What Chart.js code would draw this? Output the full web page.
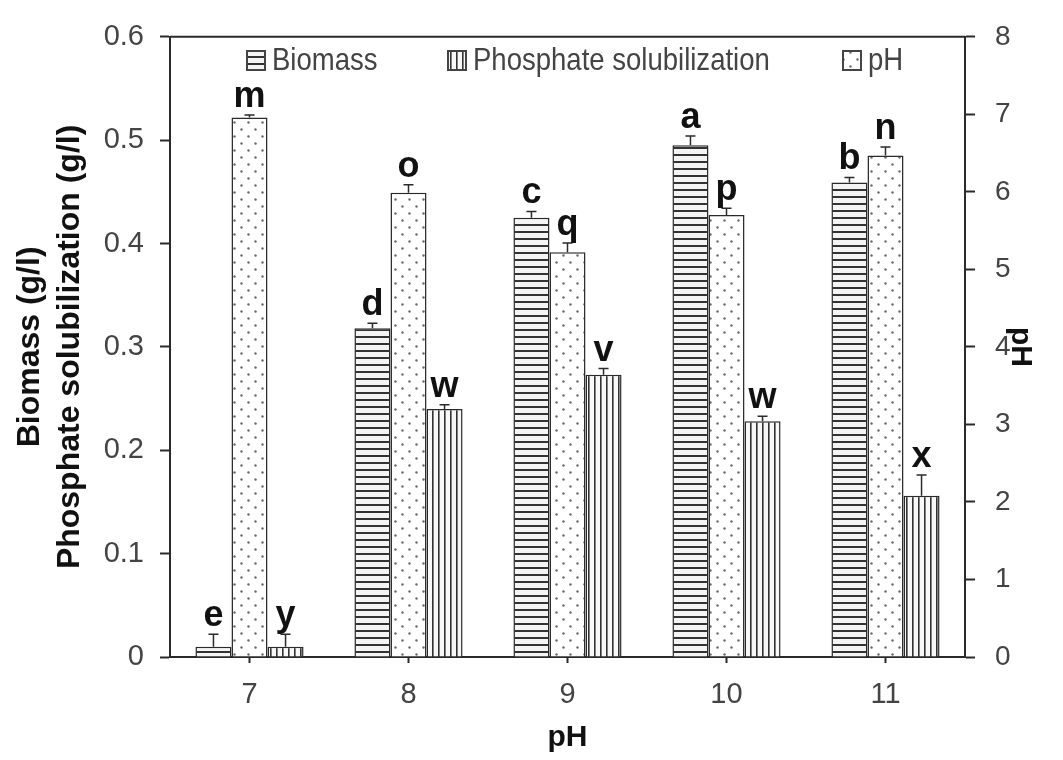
<!DOCTYPE html>
<html>
<head>
<meta charset="utf-8">
<title>Biomass, phosphate solubilization and pH</title>
<script src="https://cdn.jsdelivr.net/npm/chart.js@4.4.1/dist/chart.umd.min.js"></script>
<style>
  html, body { margin: 0; padding: 0; background: #fff; }
  #wrap { width: 1063px; height: 760px; }
</style>
</head>
<body>
<div id="wrap"><canvas id="myChart" width="1063" height="760"></canvas></div>
<script>
// initial pH of the medium (x axis)
const categories = ['7', '8', '9', '10', '11'];

// biomass and phosphate solubilization in g/l (left axis), final pH (right axis)
const biomass = [0.010, 0.318, 0.425, 0.495, 0.459];
const phValues = [6.96, 5.99, 5.22, 5.70, 6.47];
const phosphate = [0.010, 0.240, 0.273, 0.228, 0.156];

// standard deviations (upper whiskers only)
const biomassErr = [0.012, 0.005, 0.006, 0.009, 0.005];
const phErr = [0.03, 0.10, 0.12, 0.09, 0.11];
const phosphateErr = [0.012, 0.004, 0.006, 0.005, 0.020];

// significance letters
const biomassLetters = ['e', 'd', 'c', 'a', 'b'];
const phLetters = ['m', 'o', 'q', 'p', 'n'];
const phosphateLetters = ['y', 'w', 'v', 'w', 'x'];

// tick labels
const leftTicks = [0, 0.1, 0.2, 0.3, 0.4, 0.5, 0.6];
const rightTicks = [0, 1, 2, 3, 4, 5, 6, 7, 8];

const ARIAL = "'Liberation Sans', Arial, sans-serif";
const INK = '#2a2a2a';

// fill patterns
function makePattern(kind) {
    const c = document.createElement('canvas');
    const g = c.getContext('2d');
    if (kind === 'hstripe') {
        c.width = 8; c.height = 7;
        g.fillStyle = '#f4f4f4';
        g.fillRect(0, 0, 8, 7);
        g.fillStyle = '#333';
        g.fillRect(0, 0, 8, 2);
    } else if (kind === 'vstripe') {
        c.width = 6; c.height = 8;
        g.fillStyle = '#f8f8f8';
        g.fillRect(0, 0, 6, 8);
        g.fillStyle = '#333';
        g.fillRect(0, 0, 1.6, 8);
    } else {
        c.width = 14; c.height = 14;
        g.fillStyle = '#ffffff';
        g.fillRect(0, 0, 14, 14);
        g.fillStyle = '#6a6a6a';
        g.beginPath(); g.arc(3.5, 3.5, 1.2, 0, Math.PI * 2); g.fill();
        g.beginPath(); g.arc(10.5, 10.5, 1.2, 0, Math.PI * 2); g.fill();
    }
    return document.createElement('canvas').getContext('2d').createPattern(c, 'repeat');
}

const hPattern = makePattern('hstripe');
const vPattern = makePattern('vstripe');
const dotPattern = makePattern('dots');

const errors = [biomassErr, phErr, phosphateErr];
const letters = [biomassLetters, phLetters, phosphateLetters];

// whiskers and letters above each bar
const errorBarPlugin = {
    id: 'errorBars',
    afterDatasetsDraw(chart) {
        const ctx = chart.ctx;
        ctx.save();
        chart.data.datasets.forEach(function(ds, i) {
            const meta = chart.getDatasetMeta(i);
            const scale = chart.scales[ds.yAxisID];
            meta.data.forEach(function(bar, j) {
                const yTop = scale.getPixelForValue(ds.data[j] + errors[i][j]);
                ctx.strokeStyle = INK;
                ctx.lineWidth = 1.5;
                ctx.beginPath();
                ctx.moveTo(bar.x, bar.y);
                ctx.lineTo(bar.x, yTop);
                ctx.moveTo(bar.x - 5, yTop);
                ctx.lineTo(bar.x + 5, yTop);
                ctx.stroke();
                ctx.fillStyle = '#111';
                ctx.font = 'bold 36px ' + ARIAL;
                ctx.textAlign = 'center';
                ctx.textBaseline = 'alphabetic';
                ctx.fillText(letters[i][j], bar.x, yTop - 8);
            });
        });
        ctx.restore();
    }
};

// top frame line and the legend row inside the plot
const frameLegendPlugin = {
    id: 'frameLegend',
    afterDraw(chart) {
        const ctx = chart.ctx;
        const area = chart.chartArea;
        ctx.save();
        ctx.strokeStyle = INK;
        ctx.lineWidth = 2;
        ctx.beginPath();
        ctx.moveTo(area.left, area.top);
        ctx.lineTo(area.right, area.top);
        ctx.stroke();

        const items = [
            { x: 247, text: 'Biomass', fill: hPattern },
            { x: 448, text: 'Phosphate solubilization', fill: vPattern },
            { x: 843, text: 'pH', fill: dotPattern }
        ];
        items.forEach(function(it) {
            ctx.fillStyle = it.fill;
            ctx.fillRect(it.x, 51, 18, 19);
            ctx.strokeStyle = '#444';
            ctx.lineWidth = 2;
            ctx.strokeRect(it.x, 51, 18, 19);
            // condensed legend text
            ctx.save();
            ctx.translate(it.x + 25, 61);
            ctx.scale(0.86, 1);
            ctx.fillStyle = '#444';
            ctx.font = '32px ' + ARIAL;
            ctx.textAlign = 'left';
            ctx.textBaseline = 'middle';
            ctx.fillText(it.text, 0, 0);
            ctx.restore();
        });
        ctx.restore();
    }
};

const ctxBar = document.getElementById('myChart').getContext('2d');
const myChart = new Chart(ctxBar, {
    type: 'bar',
    data: {
        labels: categories,
        datasets: [{
            label: 'Biomass',
            data: biomass,
            yAxisID: 'y',
            backgroundColor: hPattern,
            borderColor: INK,
            borderWidth: 1.5
        }, {
            label: 'pH',
            data: phValues,
            yAxisID: 'y1',
            backgroundColor: dotPattern,
            borderColor: INK,
            borderWidth: 1.5
        }, {
            label: 'Phosphate solubilization',
            data: phosphate,
            yAxisID: 'y',
            backgroundColor: vPattern,
            borderColor: INK,
            borderWidth: 1.5
        }]
    },
    options: {
        responsive: false,
        animation: false,
        layout: { padding: { top: 32, left: 0, right: 0, bottom: 0 } },
        categoryPercentage: 0.68,
        barPercentage: 1,
        plugins: {
            legend: { display: false },
            tooltip: { enabled: false }
        },
        scales: {
            x: {
                grid: { drawOnChartArea: false, offset: false, tickLength: 6, tickColor: INK, tickWidth: 2 },
                border: { color: INK, width: 2 },
                ticks: { color: '#444', font: { family: ARIAL, size: 29 }, padding: 15 },
                title: { display: true, text: 'pH', color: '#111', font: { family: ARIAL, size: 30, weight: 'bold', lineHeight: 1.2 }, padding: { top: 0, bottom: 4 } },
                afterFit: function(scale) { scale.height = 103; }
            },
            y: {
                position: 'left',
                min: 0,
                max: 0.6,
                afterBuildTicks: function(scale) { scale.ticks = leftTicks.map(v => ({ value: v })); },
                grid: { drawOnChartArea: false, tickLength: 10, tickColor: INK, tickWidth: 2 },
                border: { color: INK, width: 2 },
                ticks: {
                    color: '#444',
                    font: { family: ARIAL, size: 29 },
                    padding: 16,
                    callback: v => (v === 0 ? '0' : v.toFixed(1))
                },
                title: {
                    display: true,
                    text: ['Biomass (g/l)', 'Phosphate solubilization (g/l)'],
                    color: '#111',
                    font: { family: ARIAL, size: 32, weight: 'bold', lineHeight: 1.25 },
                    padding: { top: 10, bottom: 0 }
                },
                afterFit: function(scale) { scale.width = 170; }
            },
            y1: {
                position: 'right',
                min: 0,
                max: 8,
                afterBuildTicks: function(scale) { scale.ticks = rightTicks.map(v => ({ value: v })); },
                grid: { drawOnChartArea: false, tickLength: 10, tickColor: INK, tickWidth: 2 },
                border: { color: INK, width: 2 },
                ticks: { color: '#444', font: { family: ARIAL, size: 28 }, padding: 20 },
                title: {
                    display: true,
                    text: 'pH',
                    color: '#111',
                    font: { family: ARIAL, size: 30, weight: 'bold', lineHeight: 1.2 },
                    padding: { top: 25, bottom: 0 }
                },
                afterFit: function(scale) { scale.width = 98; }
            }
        }
    },
    plugins: [errorBarPlugin, frameLegendPlugin]
});
</script>
</body>
</html>
